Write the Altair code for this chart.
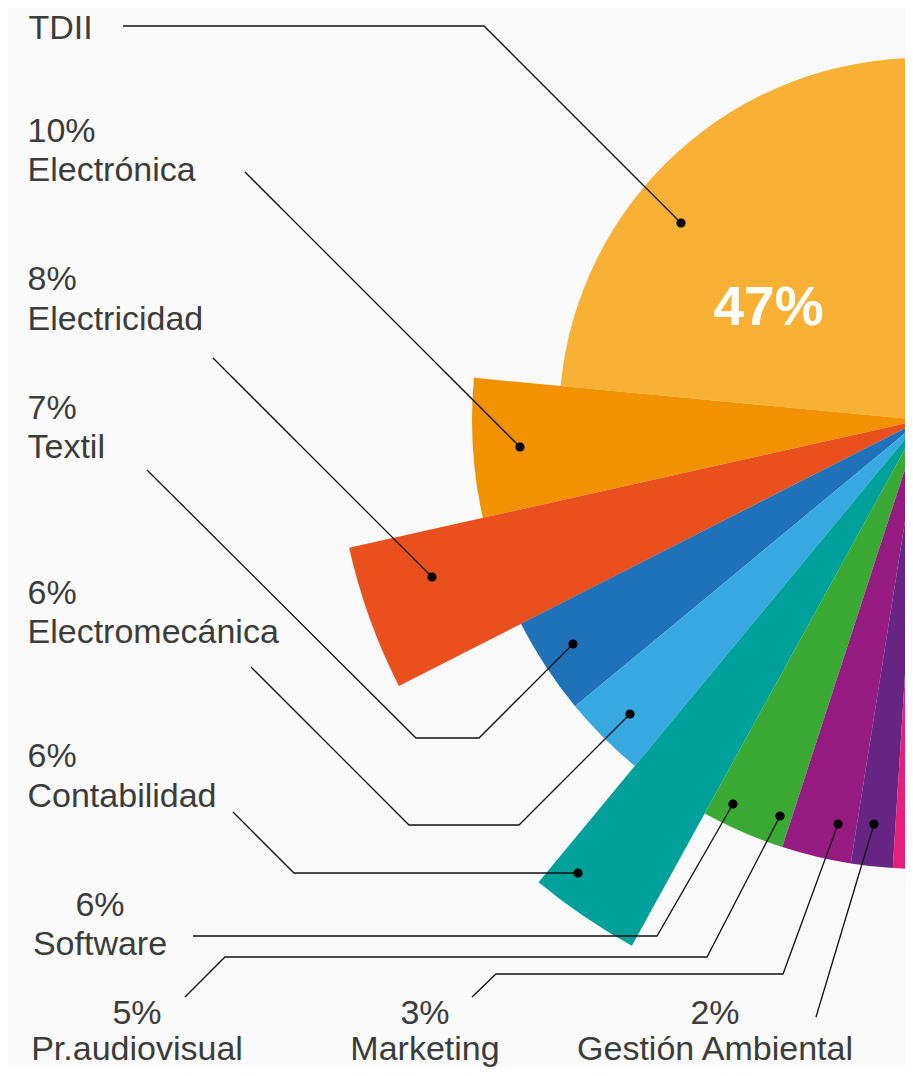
import math
import altair as alt
import pandas as pd

# ---------------- data ----------------
labels = ["TDII", "Electrónica", "Electricidad", "Textil", "Electromecánica",
          "Contabilidad", "Software", "Pr.audiovisual", "Marketing", "Gestión Ambiental"]
values = [47, 10, 8, 7, 6, 6, 6, 5, 3, 2]

# ---------------- styles ----------------
colors = ["#F8B134", "#F29200", "#EA501D", "#1F71B8", "#38A9E0",
          "#00A19A", "#3AAA35", "#951B81", "#662483", "#E6207A"]
TEXT_COLOR = "#3c3c3c"
LINE_COLOR = "#111111"
FONT = "Liberation Sans"
FONT_SIZE = 34

# ---------------- layout (page pixels) ----------------
OFF = 8
CX, CY = 921 - OFF, 420 - OFF            # pie centre
radius_px = [362, 449, 586, 449, 449, 600, 449, 449, 449, 449]

# leader lines: label end -> elbows -> dot
leader_paths = {
    "TDII": [(123, 26), (484, 26), (681, 223)],
    "Electrónica": [(245, 172), (520, 447)],
    "Electricidad": [(213, 358), (432, 577)],
    "Textil": [(147, 470), (416, 738), (479, 738), (573, 644)],
    "Electromecánica": [(251, 667), (409, 825), (519, 825), (630, 714)],
    "Contabilidad": [(233, 812), (294, 873), (578, 873)],
    "Software": [(193, 936), (657, 936), (733, 804)],
    "Pr.audiovisual": [(185, 997), (225, 957), (707, 957), (780, 816)],
    "Marketing": [(472, 997), (496, 974), (783, 974), (838, 824)],
    "Gestión Ambiental": [(816, 1017), (874, 824)],
}
# label anchors: (x, baseline of first line, baseline of second line, align)
label_pos = {
    "TDII": (28.5, None, 39, "left"),
    "Electrónica": (27.5, 142, 181, "left"),
    "Electricidad": (27.5, 290, 330, "left"),
    "Textil": (27.5, 419, 458, "left"),
    "Electromecánica": (27.5, 604, 643, "left"),
    "Contabilidad": (27.5, 767, 807, "left"),
    "Software": (100, 916, 955, "center"),
    "Pr.audiovisual": (137, 1024, 1060, "center"),
    "Marketing": (425, 1024, 1060, "center"),
    "Gestión Ambiental": (715, 1024, 1060, "center"),
}
big_label_pos = (768.5, 325)

# ---------------- tables ----------------
# slices run counter-clockwise from 12 o'clock to 6 o'clock (left half)
start, end, cum = [], [], 0
for v in values:
    end.append(100 - cum)
    cum += v
    start.append(100 - cum)
slices = pd.DataFrame({"label": labels, "value": values,
                       "start": start, "end": end, "r": radius_px})

line_rows, dot_rows = [], []
for lab in labels:
    pts = leader_paths[lab]
    for j, (x, y) in enumerate(pts):
        line_rows.append({"id": lab, "seq": j, "x": x - OFF, "y": y - OFF})
    dot_rows.append({"id": lab, "x": pts[-1][0] - OFF, "y": pts[-1][1] - OFF})
lines_df = pd.DataFrame(line_rows)
dots_df = pd.DataFrame(dot_rows)

text_rows = []
for lab, v in zip(labels, values):
    x, y1, y2, al = label_pos[lab]
    if y1 is not None:
        text_rows.append({"t": f"{v}%", "x": x - OFF, "y": y1 - OFF, "align": al})
    text_rows.append({"t": lab, "x": x - OFF, "y": y2 - OFF, "align": al})
text_df = pd.DataFrame(text_rows)
big_df = pd.DataFrame({"t": [f"{values[0]}%"],
                       "x": [big_label_pos[0] - OFF], "y": [big_label_pos[1] - OFF]})

# ---------------- chart ----------------
arc = alt.Chart(slices).mark_arc(strokeWidth=0).encode(
    theta=alt.Theta("start:Q", stack=False,
                    scale=alt.Scale(domain=[0, 100], range=[math.pi, 2 * math.pi])),
    theta2=alt.Theta2("end:Q"),
    radius=alt.Radius("r:Q", scale=None),
    color=alt.Color("label:N", scale=alt.Scale(domain=labels, range=colors), legend=None),
    x=alt.value(CX),
    y=alt.value(CY),
)

px = dict(scale=None, axis=None)
lines = alt.Chart(lines_df).mark_line(color=LINE_COLOR, strokeWidth=1.3).encode(
    x=alt.X("x:Q", **px), y=alt.Y("y:Q", **px),
    detail="id:N", order="seq:Q")
dots = alt.Chart(dots_df).mark_circle(color="#000000", size=85, opacity=1).encode(
    x=alt.X("x:Q", **px), y=alt.Y("y:Q", **px))

txt_left = alt.Chart(text_df[text_df["align"] == "left"]).mark_text(
    align="left", baseline="alphabetic", font=FONT, fontSize=FONT_SIZE, color=TEXT_COLOR
).encode(x=alt.X("x:Q", **px), y=alt.Y("y:Q", **px), text="t:N")
txt_center = alt.Chart(text_df[text_df["align"] == "center"]).mark_text(
    align="center", baseline="alphabetic", font=FONT, fontSize=FONT_SIZE, color=TEXT_COLOR
).encode(x=alt.X("x:Q", **px), y=alt.Y("y:Q", **px), text="t:N")
big = alt.Chart(big_df).mark_text(
    align="center", baseline="alphabetic", font=FONT, fontSize=55,
    fontWeight="bold", color="#ffffff"
).encode(x=alt.X("x:Q", **px), y=alt.Y("y:Q", **px), text="t:N")

chart = alt.layer(arc, lines, dots, txt_left, txt_center, big).properties(
    width=897, height=1060, padding=0, background="#fafafa",
    autosize=alt.AutoSizeParams(type="none"),
).configure_view(stroke=None)

chart.save("out.html", embed_options={"renderer": "svg", "actions": False})
